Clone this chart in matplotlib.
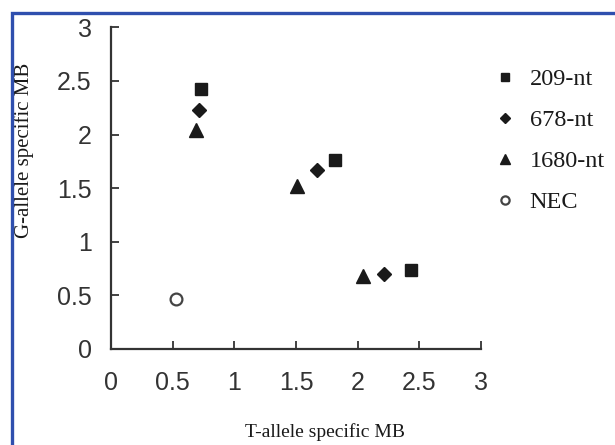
import matplotlib
matplotlib.use("Agg")
import matplotlib.pyplot as plt
from matplotlib.patches import Rectangle

# values (T-allele MB, G-allele MB)
labels = ["209-nt", "678-nt", "1680-nt", "NEC"]
t_209 = [0.73, 1.82, 2.43]
g_209 = [2.43, 1.76, 0.74]
t_678 = [0.71, 1.67, 2.21]
g_678 = [2.23, 1.67, 0.70]
t_1680 = [0.69, 1.51, 2.04]
g_1680 = [2.04, 1.52, 0.68]
t_nec = [0.53]
g_nec = [0.47]

ticks = [0, 0.5, 1, 1.5, 2, 2.5, 3]
tick_labels = ["0", "0.5", "1", "1.5", "2", "2.5", "3"]

ink = "#1a1a1a"
serif = ["Liberation Serif", "DejaVu Serif"]

fig = plt.figure(figsize=(6.15, 4.45), dpi=100)
ax = fig.add_axes([111 / 615, 1 - 349 / 445, 370 / 615, 321.6 / 445])

ax.plot(t_209, g_209, "s", color=ink, ms=9, label=labels[0])
ax.plot(t_678, g_678, "D", color=ink, ms=7.5, label=labels[1])
ax.plot(t_1680, g_1680, "^", color=ink, ms=10, label=labels[2])
ax.plot(t_nec, g_nec, "o", mfc="white", mec="#444444", mew=1.6, ms=8.5, label=labels[3])

ax.set_xlim(0, 3)
ax.set_ylim(0, 3)
ax.set_xticks(ticks)
ax.set_yticks(ticks)
ax.set_xticklabels(tick_labels, family="Liberation Sans", fontsize=18, color="#333333")
ax.set_yticklabels(tick_labels, family="Liberation Sans", fontsize=18, color="#333333")
ax.tick_params(direction="in", length=6, width=1.3, color="#333333", pad=14)
ax.tick_params(axis="x", pad=15.5)

for side in ["top", "right"]:
    ax.spines[side].set_visible(False)
for side in ["left", "bottom"]:
    ax.spines[side].set_linewidth(1.6)
    ax.spines[side].set_color("#333333")

ax.set_xlabel("T-allele specific MB", family=serif, fontsize=14, color=ink)
ax.set_ylabel("G-allele specific MB", family=serif, fontsize=15, color=ink)
ax.xaxis.set_label_coords(0.578, -0.232)
ax.yaxis.set_label_coords(-0.208, 0.619)

fig.legend(loc="upper left", bbox_to_anchor=(481 / 615, 1 - 56 / 445),
           frameon=False, prop={"family": serif, "size": 17.5},
           markerscale=0.7, handlelength=1.0, handletextpad=0.5,
           labelspacing=0.78, borderpad=0, labelcolor=ink)

# blue frame around the figure, cut off on the right and bottom
fig.patches.append(Rectangle((12 / 615, -0.05), 1.05, 1 - 13 / 445 + 0.05,
                             transform=fig.transFigure, fill=False,
                             edgecolor="#2f4fae", linewidth=2.4))

fig.savefig("out.png", dpi=100)
